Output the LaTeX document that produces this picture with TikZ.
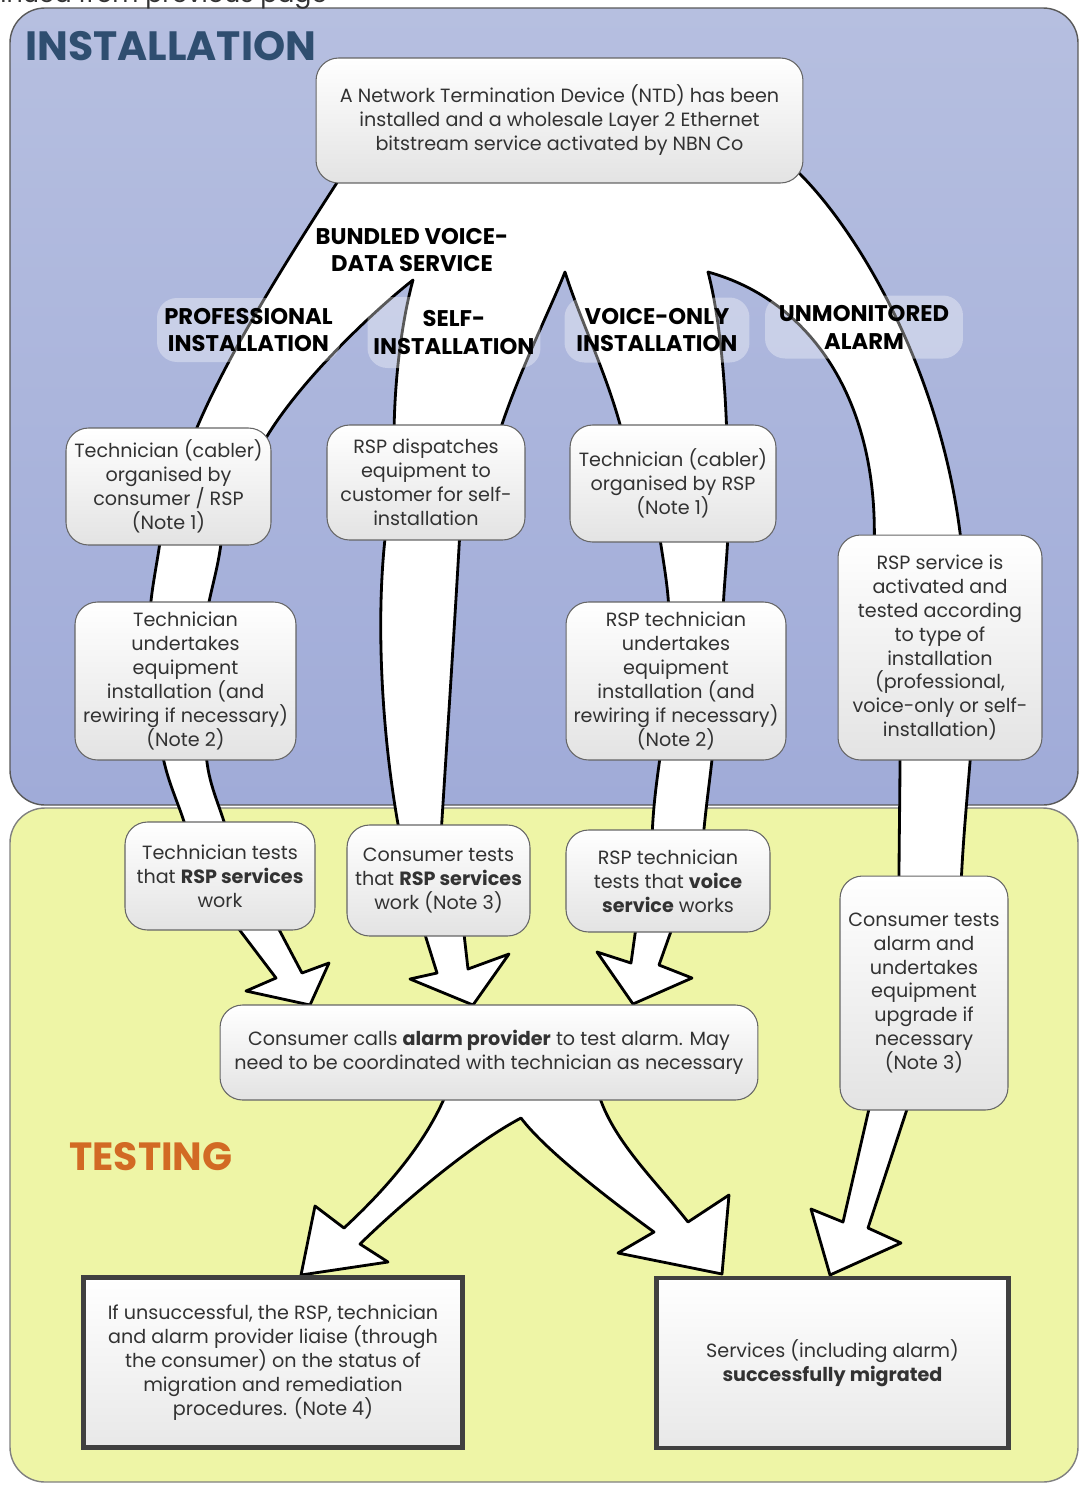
\documentclass[tikz,border=0pt]{standalone}
\usepackage{fontspec}
\setmainfont{Poppins}

\definecolor{insttop}{RGB}{182,191,224}
\definecolor{instbot}{RGB}{160,171,216}
\definecolor{testfill}{RGB}{238,245,166}
\definecolor{insttitle}{RGB}{47,78,112}
\definecolor{testtitle}{RGB}{210,106,36}
\definecolor{boxtext}{RGB}{50,50,50}

\begin{document}
\begin{tikzpicture}[x=0.02cm, y=-0.02cm,
    stepbox/.style={draw=black!60, line width=0.6pt, rounded corners=0.45cm, top color=white, bottom color=black!11, align=center, text=boxtext, font=\fontsize{10.9}{13.65}\selectfont, inner sep=0pt},
    endbox/.style={draw=black!75, line width=2.8pt, top color=white, bottom color=black!9, align=center, text=boxtext, font=\fontsize{10.9}{13.65}\selectfont, inner sep=0pt},
    kindlabel/.style={fill=white, fill opacity=0.35, text opacity=1, rounded corners=0.4cm, align=center, font=\fontsize{12.9}{15.9}\selectfont\bfseries, inner sep=0pt},
    band/.style={draw=black, line width=1.6pt, fill=white, line join=round}]
    \useasboundingbox (0,0) rectangle (1081,1485);

    \draw[draw=black!65, line width=0.8pt, rounded corners=0.7cm, top color=insttop, bottom color=instbot] (10,8) rectangle (1078,805);
    \draw[draw=black!50, line width=0.8pt, rounded corners=0.7cm, fill=testfill] (10,808) rectangle (1078,1482);
    \node[anchor=base west, inner sep=0pt, font=\fontsize{14.4}{16}\selectfont, text=black!80] (cont) at (0,2) {inued from previous page};

    \draw[band] (340,178) .. controls (300,240) and (222,360) .. (190,445)
        -- (262,445) .. controls (292,390) and (365,318) .. (413,280)
        .. controls (402,320) and (394,380) .. (394,440)
        -- (497,440) .. controls (515,380) and (550,310) .. (565,272)
        .. controls (580,320) and (610,380) .. (624,440)
        -- (727,440) .. controls (725,370) and (718,310) .. (708,272)
        .. controls (810,300) and (880,400) .. (874,550)
        -- (962,550) .. controls (945,380) and (862,235) .. (798,172) -- cycle;
    \draw[band] (161,535) .. controls (157,565) and (152,585) .. (150,612) -- (207,612) .. controls (212,585) and (219,565) .. (222,535) -- cycle;
    \draw[band] (162,752) .. controls (168,785) and (180,805) .. (187,832) -- (227,832) .. controls (220,805) and (208,785) .. (206,752) -- cycle;
    \draw[band] (386,530) .. controls (375,620) and (382,740) .. (400,835) -- (441,835) .. controls (447,740) and (455,620) .. (460,530) -- cycle;
    \draw[band] (659,532) .. controls (663,560) and (668,585) .. (669,612) -- (723,612) .. controls (724,585) and (727,560) .. (728,532) -- cycle;
    \draw[band] (661,750) .. controls (657,780) and (653,805) .. (652,840) -- (703,840) .. controls (706,805) and (710,780) .. (713,750) -- cycle;
    \draw[band] (900,750) .. controls (900,800) and (899,840) .. (899,886) -- (961,886) .. controls (963,840) and (967,800) .. (971,750) -- cycle;
    \draw[band] (232,920) -- (276,978) -- (246,991) -- (310,1005) -- (329,963) -- (302,973) -- (274,920) -- cycle;
    \draw[band] (422,925) -- (437,973) -- (410,979) -- (473,1005) -- (509,954) -- (468,969) -- (463,925) -- cycle;
    \draw[band] (637,920) -- (631,963) -- (597,952) -- (633,1004) -- (692,978) -- (659,965) -- (675,920) -- cycle;
    \draw[band] (447,1092) .. controls (425,1145) and (385,1190) .. (344,1228) -- (315,1206) -- (301,1275) -- (388,1262) -- (360,1244)
        .. controls (400,1205) and (470,1145) .. (521,1118) .. controls (545,1150) and (610,1200) .. (654,1232)
        -- (618,1253) -- (722,1274) -- (729,1195) -- (688,1222) .. controls (655,1180) and (612,1140) .. (598,1092) -- cycle;
    \draw[band] (871,1100) -- (843,1222) -- (811,1209) -- (830,1275) -- (901,1243) -- (868,1228) -- (910,1100) -- cycle;

    \node[align=center, inner sep=0pt, font=\fontsize{12.9}{15.9}\selectfont\bfseries] (bundle) at (412,250) {BUNDLED VOICE-\\DATA SERVICE};
    \node[kindlabel, minimum width=3.66cm, minimum height=1.28cm] (prof) at (248.5,330) {PROFESSIONAL\\INSTALLATION};
    \node[kindlabel, minimum width=3.46cm, minimum height=1.42cm] (self) at (454,332.5) {SELF-\\INSTALLATION};
    \node[kindlabel, minimum width=3.7cm, minimum height=1.3cm] (voice) at (657,330) {VOICE-ONLY\\INSTALLATION};
    \node[kindlabel, minimum width=3.96cm, minimum height=1.26cm] (alarm) at (864,327) {UNMONITORED\\ALARM};

    \node[stepbox, minimum width=9.74cm, minimum height=2.5cm] (ntd) at (559.5,120.5) {A Network Termination Device (NTD) has been\\installed and a wholesale Layer 2 Ethernet\\bitstream service activated by NBN Co};
    \node[stepbox, minimum width=4.1cm, minimum height=2.34cm] (P1) at (168.5,486.5) {Technician (cabler)\\organised by\\consumer / RSP\\(Note 1)};
    \node[stepbox, minimum width=4.42cm, minimum height=3.16cm] (P2) at (185.5,681) {Technician\\undertakes\\equipment\\installation (and\\rewiring if necessary)\\(Note 2)};
    \node[stepbox, minimum width=3.8cm, minimum height=2.16cm] (P3) at (220,876) {Technician tests\\that \textbf{RSP services}\\work};
    \node[stepbox, minimum width=3.96cm, minimum height=2.3cm] (S1) at (426,482.5) {RSP dispatches\\equipment to\\customer for self-\\installation};
    \node[stepbox, minimum width=3.66cm, minimum height=2.22cm] (S2) at (438.5,880.5) {Consumer tests\\that \textbf{RSP services}\\work (Note 3)};
    \node[stepbox, minimum width=4.12cm, minimum height=2.34cm] (V1) at (673,483.5) {Technician (cabler)\\organised by RSP\\(Note 1)};
    \node[stepbox, minimum width=4.4cm, minimum height=3.16cm] (V2) at (676,681) {RSP technician\\undertakes\\equipment\\installation (and\\rewiring if necessary)\\(Note 2)};
    \node[stepbox, minimum width=4.08cm, minimum height=2.04cm] (V3) at (668,881) {RSP technician\\tests that \textbf{voice}\\\textbf{service} works};
    \node[stepbox, minimum width=4.08cm, minimum height=4.5cm] (A1) at (940,647.5) {RSP service is\\activated and\\tested according\\to type of\\installation\\(professional,\\voice-only or self-\\installation)};
    \node[stepbox, minimum width=3.36cm, minimum height=4.68cm] (A2) at (924,993) {Consumer tests\\alarm and\\undertakes\\equipment\\upgrade if\\necessary\\(Note 3)};
    \node[stepbox, minimum width=10.76cm, minimum height=1.9cm] (call) at (489,1052.5) {Consumer calls \textbf{alarm provider} to test alarm. May\\need to be coordinated with technician as necessary};
    \node[endbox, minimum width=7.58cm, minimum height=3.4cm] (fail) at (273,1362.5) {If unsuccessful, the RSP, technician\\and alarm provider liaise (through\\the consumer) on the status of\\migration and remediation\\procedures. (Note 4)};
    \node[endbox, minimum width=7.04cm, minimum height=3.4cm] (done) at (832.5,1363) {Services (including alarm)\\\textbf{successfully migrated}};

    \node[anchor=west, inner sep=0pt, font=\fontsize{23.3}{28}\selectfont\bfseries, text=insttitle] (inst) at (25,46) {INSTALLATION};
    \node[anchor=west, inner sep=0pt, font=\fontsize{22.4}{28}\selectfont\bfseries, text=testtitle] (test) at (69,1157) {TESTING};
\end{tikzpicture}
\end{document}
